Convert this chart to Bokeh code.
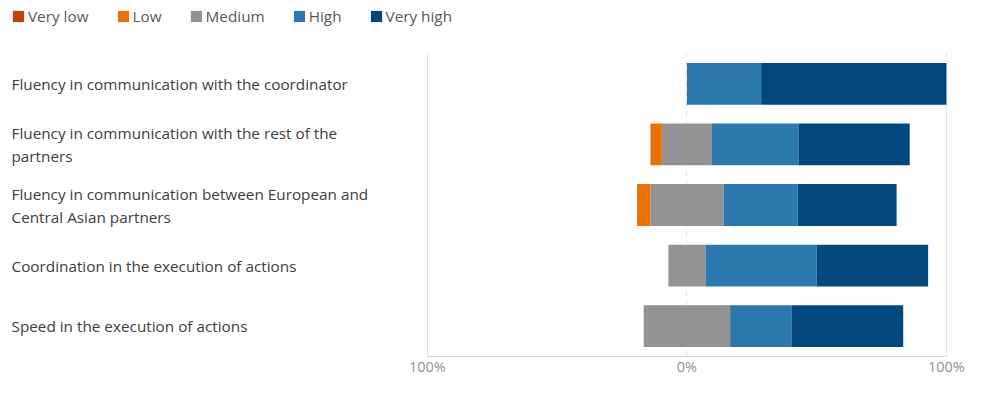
import numpy as np
from bokeh.plotting import figure
from bokeh.layouts import column
from bokeh.models import (FactorRange, Range1d, FixedTicker, Grid, Legend, LegendItem,
                          ColumnDataSource)
from bokeh.core.properties import value
from bokeh.embed import file_html
from bokeh.resources import INLINE

# ---- data ----
categories = [
    "Fluency in communication with the coordinator",
    "Fluency in communication with the rest of the partners",
    "Fluency in communication between European and Central Asian partners",
    "Coordination in the execution of actions",
    "Speed in the execution of actions",
]
category_labels = [
    "Fluency in communication with the coordinator",
    "Fluency in communication with the rest of the\npartners",
    "Fluency in communication between European and\nCentral Asian partners",
    "Coordination in the execution of actions",
    "Speed in the execution of actions",
]
levels = ["Very low", "Low", "Medium", "High", "Very high"]
very_low = [0.0, 0.0, 0.0, 0.0, 0.0]
low = [0.0, 4.4, 5.1, 0.0, 0.0]
medium = [0.0, 19.3, 28.2, 14.3, 33.3]
high = [28.6, 33.3, 28.6, 42.9, 23.8]
very_high = [71.4, 42.9, 38.1, 42.9, 42.9]
tick_values = [-100, 0, 100]
tick_labels = ["100%", "0%", "100%"]

# ---- styles ----
colors = ["#C1420F", "#EB7104", "#939393", "#2B79AF", "#02487F"]
FONT = "Open Sans"
FS = "15.3px"

series = [np.array(s) for s in (very_low, low, medium, high, very_high)]
start = -(series[0] + series[1] + series[2] / 2.0)
edges = [start]
for s in series:
    edges.append(edges[-1] + s)

sources = [ColumnDataSource(dict(y=categories, left=edges[i], right=edges[i + 1]))
           for i in range(len(levels))]

W = 968
HA, HB = 34, 344
X_RANGE = (-264.5, 100.8)

# ---------- legend strip: zero-height copies of the series, only the legend shows ----------
pa = figure(width=W, height=HA, x_range=Range1d(*X_RANGE),
            y_range=FactorRange(factors=categories[::-1]),
            x_axis_location=None, y_axis_location=None,
            output_backend="svg", toolbar_location=None, min_border=0)
pa.outline_line_color = None
pa.grid.visible = False
legend_renderers = []
for i, name in enumerate(levels):
    legend_renderers.append(
        pa.hbar(y="y", left="left", right="right", height=0, source=sources[i],
                fill_color=colors[i], line_color=None))
items = [LegendItem(label=n, renderers=[r]) for n, r in zip(levels, legend_renderers)]
legend = Legend(items=items, orientation="horizontal", location=(11, 8),
                glyph_width=14, glyph_height=14, label_standoff=3, spacing=27,
                padding=0, margin=0, border_line_color=None,
                background_fill_alpha=0, label_text_font=FONT,
                label_text_font_size=FS, label_text_color="#595959",
                label_height=14)
pa.add_layout(legend)

# ---------- main chart ----------
p = figure(
    width=W, height=HB,
    y_range=FactorRange(factors=categories[::-1]),
    x_range=Range1d(*X_RANGE),
    output_backend="svg", toolbar_location=None,
    y_axis_location=None,
    min_border_left=0, min_border_right=20,
    min_border_top=19, min_border_bottom=20,
)
p.outline_line_color = None

for i, name in enumerate(levels):
    p.hbar(y="y", left="left", right="right", height=0.69, source=sources[i],
           fill_color=colors[i], line_color=None)

# grid
p.ygrid.visible = False
p.xgrid.ticker = FixedTicker(ticks=[tick_values[0], tick_values[2]])
p.xgrid.grid_line_color = "#E3E3E3"
zero_grid = Grid(dimension=0, ticker=FixedTicker(ticks=[tick_values[1]]),
                 grid_line_color="#E3E3E3", grid_line_dash="6 4")
p.add_layout(zero_grid)

# x axis
ax = p.xaxis[0]
ax.ticker = FixedTicker(ticks=tick_values)
ax.major_label_overrides = {v: l for v, l in zip(tick_values, tick_labels)}
ax.bounds = (tick_values[0], tick_values[-1])
ax.axis_line_color = "#D9D9D9"
ax.major_tick_line_color = None
ax.minor_tick_line_color = None
ax.major_tick_out = 0
ax.major_tick_in = 0
ax.major_label_standoff = 0
ax.major_label_text_font = FONT
ax.major_label_text_font_size = "14.5px"
ax.major_label_text_color = "#929292"

# category labels
x0 = p.x_range.start
p.text(x=[x0] * len(categories), y=categories, text=category_labels,
       x_offset=11, text_align="left", text_baseline="middle",
       text_font=value(FONT), text_font_size=FS, text_color="#404040",
       text_line_height=1.15)

layout = column(pa, p, spacing=0)
open("out.html", "w").write(file_html(layout, INLINE))
